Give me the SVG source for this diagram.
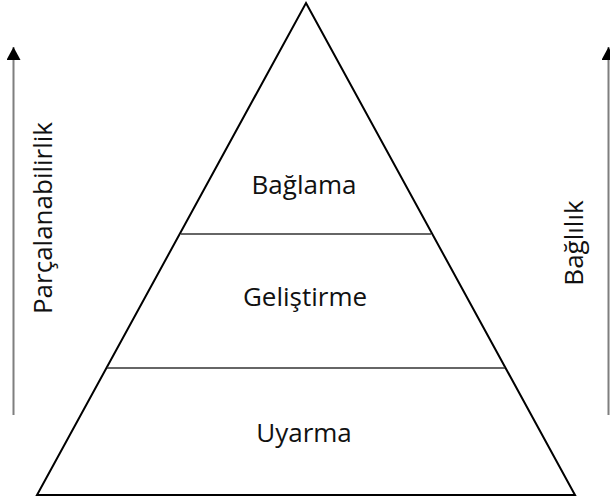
<svg xmlns="http://www.w3.org/2000/svg" width="610" height="499" viewBox="0 0 610 499">
<style>
.t{font-family:"Open Sans","Noto Sans",sans-serif;font-size:26px;fill:#111;text-anchor:middle}
.arr{stroke:#7f7f7f;stroke-width:2;fill:none;marker-end:url(#ah)}
.div{stroke:#333;stroke-width:1.5}
</style>
<defs>
<marker id="ah" markerWidth="14" markerHeight="14" viewBox="0 0 14 14" refX="13" refY="7" orient="auto" markerUnits="userSpaceOnUse">
<path d="M0,0 L13,7 L0,14 Z" fill="#000"/>
</marker>
</defs>
<rect width="610" height="499" fill="#fff"/>
<g id="pyramid">
<polygon points="306,3 575,495 37,495" fill="#fff" stroke="#000" stroke-width="2" stroke-linejoin="miter"/>
</g>
<g id="connectors">
<line class="div" x1="181" y1="234" x2="431" y2="234"/>
<line class="div" x1="107" y1="368" x2="505" y2="368"/>
<line class="arr" x1="13.5" y1="415" x2="13.5" y2="47"/>
<line class="arr" x1="608.5" y1="415" x2="608.5" y2="47"/>
</g>
<g id="baglama"><text class="t" x="304" y="194">Bağlama</text></g>
<g id="gelistirme"><text class="t" x="305" y="306">Geliştirme</text></g>
<g id="uyarma"><text class="t" x="304" y="442">Uyarma</text></g>
<g id="parcalanabilirlik"><text class="t" transform="translate(52,218) rotate(-90)" x="0" y="0">Parçalanabilirlik</text></g>
<g id="baglilik"><text class="t" transform="translate(583,243) rotate(-90)" x="0" y="0">Bağlılık</text></g>
</svg>
